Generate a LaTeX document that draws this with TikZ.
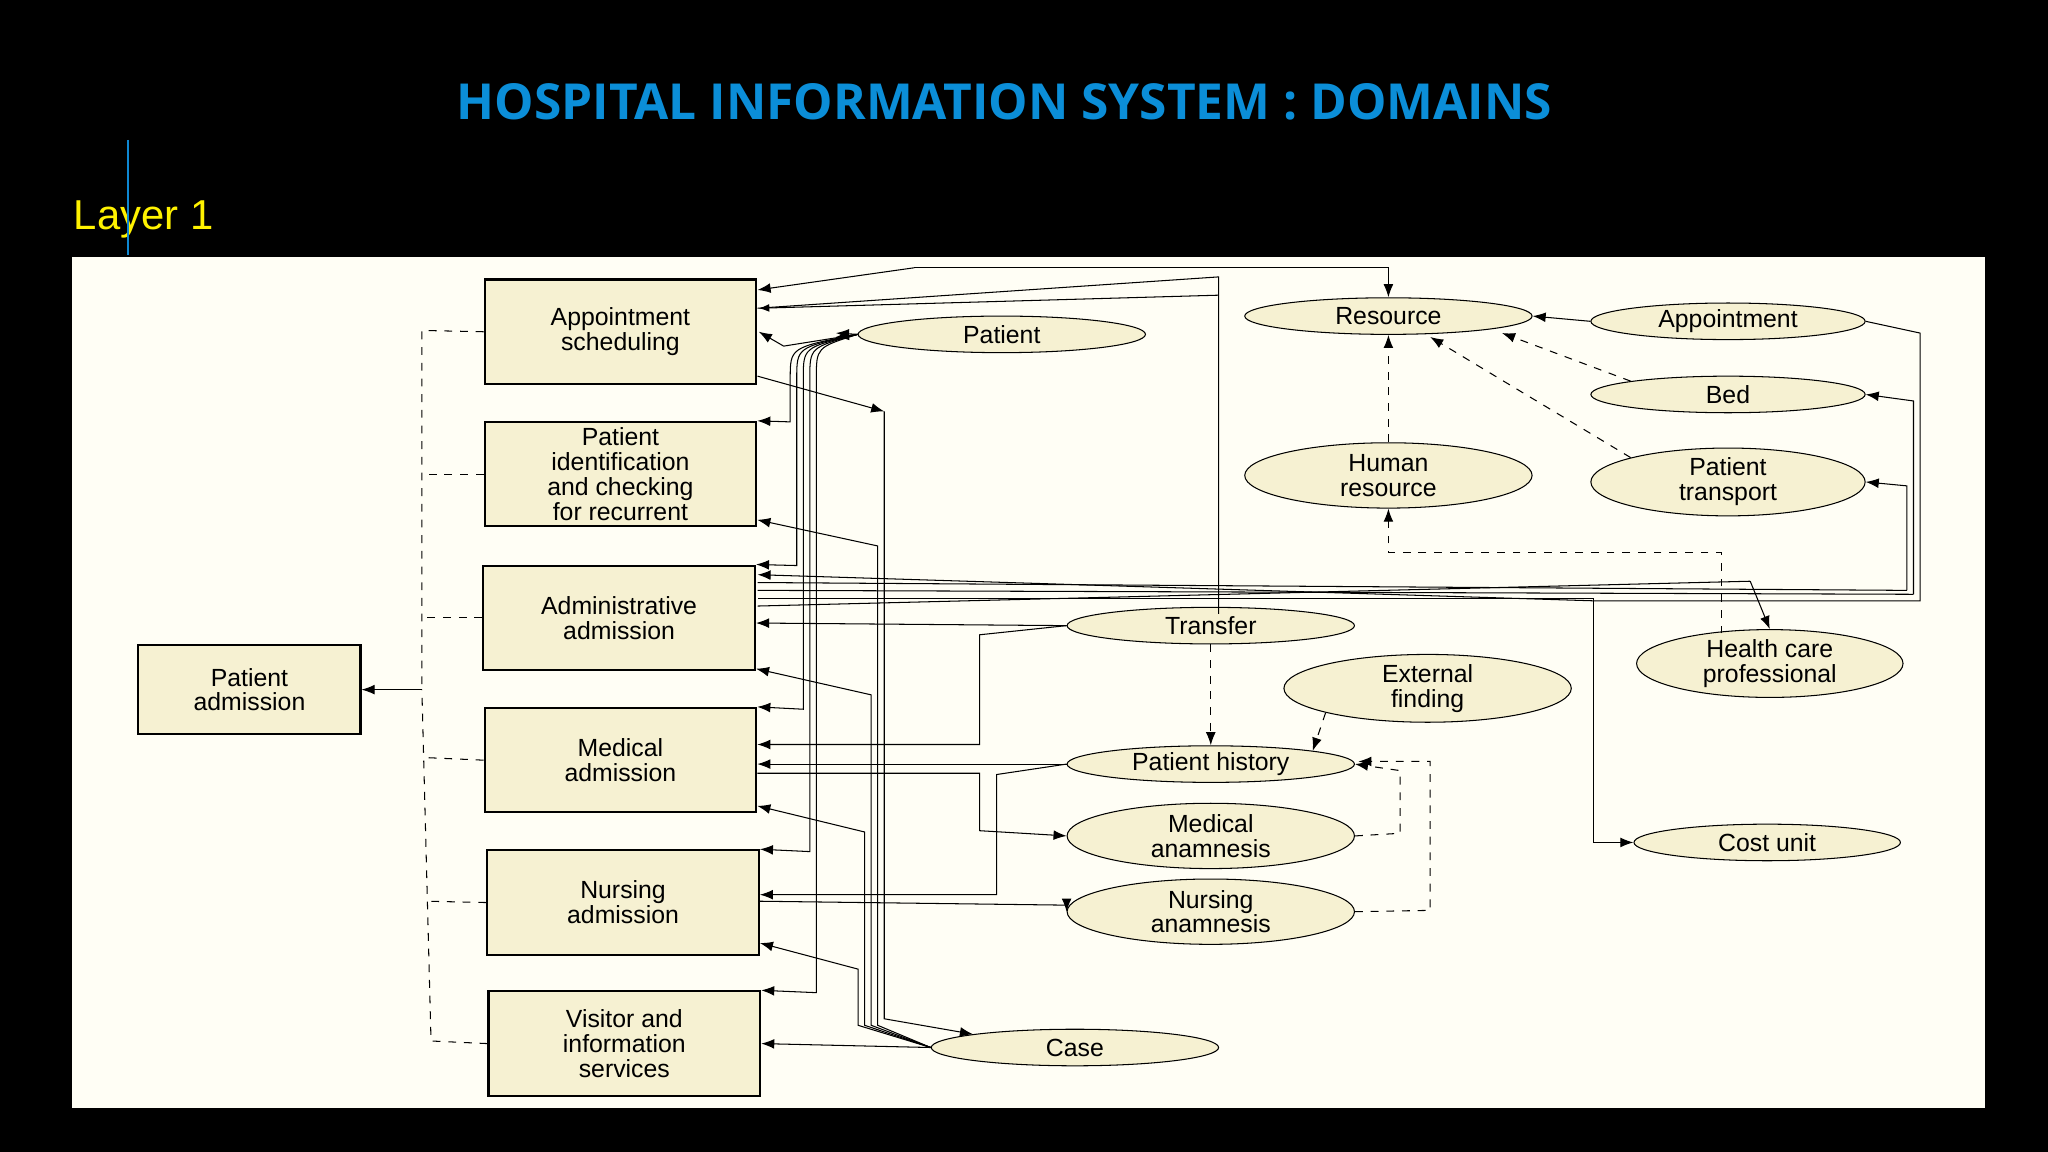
\documentclass[tikz,border=0pt]{standalone}
\usepackage{fontspec}
\setmainfont{Liberation Sans}
\newfontfamily\titlef{Open Sans}
\usetikzlibrary{shapes.geometric,arrows.meta}
\begin{document}
\begin{tikzpicture}[x=0.5pt,y=-0.5pt,
  box/.style={draw,thick,fill=cream,minimum width=104pt,minimum height=40pt,align=center,font=\fontsize{9.5}{9.5}\selectfont,inner sep=1pt},
  ell/.style={draw,ellipse,fill=cream,minimum width=110pt,minimum height=25pt,align=center,font=\fontsize{9.5}{9.5}\selectfont,inner sep=0pt},
  el/.style={ell,minimum height=14pt},
  a/.style={-{Latex[length=5pt]},thin},
  d/.style={dashed,thin},
  da/.style={dashed,thin,-{Latex[length=5pt]}}]
\definecolor{cream}{HTML}{F6F1D2}
\fill[black] (0,0) rectangle (1568,882);
\useasboundingbox (0,0) rectangle (1568,882);
\fill[white!96!yellow] (55,197) -- (1520,197) -- (1520,848) -- (55,848) -- cycle;
\node[text=cyan!75!blue,font=\titlef\bfseries\fontsize{19}{19}\selectfont] (title) at (769,78) {HOSPITAL INFORMATION SYSTEM : DOMAINS};
\node[text=yellow,font=\fontsize{16}{16}\selectfont] (layer) at (110,168) {Layer 1};
\draw[cyan!70!blue,thick] (98,107) -- (98,195);
% boxes
\node[box] (as) at (475,254) {Appointment\\scheduling};
\node[box] (pi) at (475,363) {Patient\\identification\\and checking\\for recurrent};
\node[box] (aa) at (474,473) {Administrative\\admission};
\node[box] (ma) at (475,582) {Medical\\admission};
\node[box] (na) at (477,691) {Nursing\\admission};
\node[box] (vi) at (478,799) {Visitor and\\information\\services};
\node[box,minimum width=85pt,minimum height=34pt] (pa) at (191,528) {Patient\\admission};
% ellipses
\node[el] (pat) at (767,256) {Patient};
\node[el] (res) at (1063,242) {Resource};
\node[el,minimum width=105pt] (app) at (1323,246) {Appointment};
\node[el,minimum width=105pt] (bed) at (1323,302) {Bed};
\node[ell] (hr) at (1063,364) {Human\\resource};
\node[ell,minimum width=105pt] (pt) at (1323,369) {Patient\\transport};
\node[el] (tr) at (927,479) {Transfer};
\node[ell] (ef) at (1093,527) {External\\finding};
\node[ell,minimum width=102pt] (hc) at (1355,508) {Health care\\professional};
\node[el] (ph) at (927,585) {Patient history};
\node[ell] (man) at (927,640) {Medical\\anamnesis};
\node[el,minimum width=102pt] (cu) at (1353,645) {Cost unit};
\node[ell] (nan) at (927,698) {Nursing\\anamnesis};
\node[el] (cs) at (823,802) {Case};
% dashed tree
\coordinate (tt) at (323,253);
\coordinate (tb) at (330,797);
\draw[d] (as.west) -- (tt) -- (323,528);
\draw[d] (pi.west) -- (323,363);
\draw[d] (aa.west) -- (323,473);
\draw[d] (ma.west) -- (325,580);
\draw[d] (na.west) -- (327,690);
\draw[d] (vi.west) -- (tb) -- (323,528);
\draw[a] (323,528) -- (pa.east);
% top lines
\draw[a] (700,205) -- (1063,205) -- (res.north);
\draw[a] (700,205) -- (580,222);
\draw (933,470) -- (933,212) -- (580,236);
\draw[-{Latex[length=4pt]}] (933,226) -- (581,236);
% patient fan
\draw[a] (pat.west) -- (640,255);
\draw[a] (pat.west) -- (640,258);
\foreach \y/\x/\n in {323/605/pi, 433/610/aa, 543/615/ma, 652/620/na, 760/625/vi}
  \draw[a] (pat.west) .. controls (\x,266) .. (\x,290) -- (\x,\y) -- (\n.north east);
\draw[a] (pat.west) -- (600,265) -- (581,254);
% case fan
\draw[a] (677,315) -- (677,780) -- (cs.north west);
\draw[a] (580,288) -- (677,315);
\foreach \y/\x/\n in {398/672/pi, 512/667/aa, 617/662/ma, 722/657/na}
  \draw[a] (cs.west) -- (\x,785) -- (\x,\y+20) -- (\n.east |- 0,\y);
\draw[a] (cs.west) -- (vi.east);
% right side to admin
\draw[a] (app.east) -- (1470,255) -- (1470,460) -- (1220,460) -- (580,440);
\draw[a] (1465,455) -- (1465,307) -- (bed.east);
\draw[a] (1460,452) -- (1460,372) -- (pt.east);
\draw (1460,452) -- (580,446);
\draw (1465,455) -- (580,452);
\draw[a] (1220,458) -- (1220,645) -- (cu.west);
\draw (1220,458) -- (580,458);
\draw[a] (1340,445) -- (hc.north);
\draw (1340,445) -- (580,464);
\draw[a] (tr.west) -- (aa.east |- 0,477);
\draw[a] (tr.west) -- (750,486) -- (750,570) -- (ma.east |- 0,570);
\draw[da] (tr.south) -- (ph.north);
\draw[da] (ef.south west) -- (ph.north east);
% resources
\draw[da] (hr.north) -- (res.south);
\draw[da] (bed.north west) -- (1150,255);
\draw[da] (pt.north west) -- (1095,258);
\draw[a] (app.west) -- (res.east);
\draw[da] (1318,485) -- (1318,423) -- (1063,423) -- (hr.south);
% history / anamnesis
\draw[a] (ph.west) -- (ma.east |- 0,585);
\draw[a] (ph.west) -- (763,593) -- (763,685) -- (na.east |- 0,685);
\draw[a] (ma.east |- 0,592) -- (750,592) -- (750,636) -- (man.west);
\draw[a] (na.east |- 0,690) -- (man.west |- 0,693) -- (nan.west);
\draw[da] (man.east) -- (1072,638) -- (1072,590) -- (ph.east);
\draw[da] (nan.east) -- (1095,697) -- (1095,583) -- (1040,583);
\end{tikzpicture}
\end{document}
